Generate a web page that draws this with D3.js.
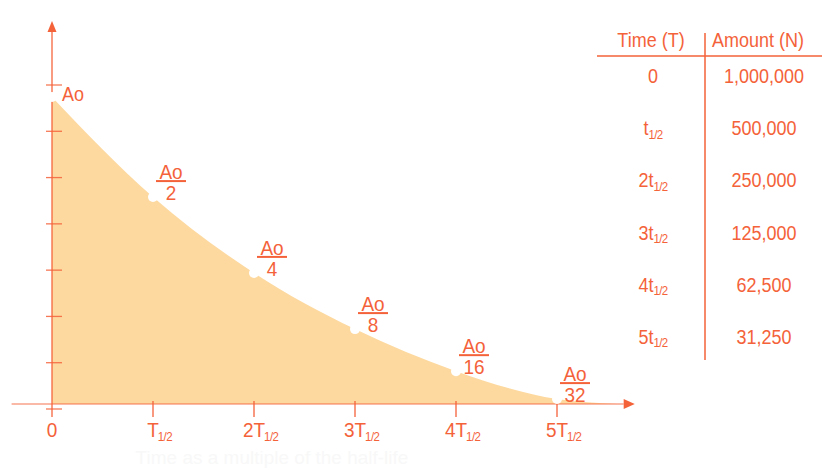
<!DOCTYPE html>
<html>
<head>
<meta charset="utf-8">
<script src="https://cdn.jsdelivr.net/npm/d3@7"></script>
<style>
  html, body { margin: 0; padding: 0; background: #fff; }
  svg { display: block; font-family: "Liberation Sans", Arial, Helvetica, sans-serif; }
</style>
</head>
<body>
<svg id="chart" width="822" height="473"></svg>
<script>
// ---- data ----
const curveT = [0, 1, 2, 3, 4, 5, 5.6];               // time in half-lives
const curveFrac = [1, 0.674, 0.427, 0.244, 0.107, 0.016, 0]; // drawn amount (fraction of Ao)
const halfLifeIdx = [0, 1, 2, 3, 4, 5];
const denominators = [2, 4, 8, 16, 32];
const xTickMain = ["0", "T", "2T", "3T", "4T", "5T"];
const xTickSub = ["", "1/2", "1/2", "1/2", "1/2", "1/2"];
const yTickIdx = [0, 1, 2, 3, 4, 5, 6, 7];
const tableTimeMain = ["0", "t", "2t", "3t", "4t", "5t"];
const tableTimeSub = ["", "1/2", "1/2", "1/2", "1/2", "1/2"];
const tableAmounts = [1000000, 500000, 250000, 125000, 62500, 31250];
const tableHeaders = ["Time (T)", "Amount (N)"];
const xTitle = "Time as a multiple of the half-life";

// ---- style ----
const ORANGE = "#f4623a";
const FILL = "#fdd9a0";
const SY = 1.1; // vertical stretch of glyphs

const svg = d3.select("#chart");
const x = d3.scaleLinear().domain([0, 5]).range([52, 557]);
const y = d3.scaleLinear().domain([0, 1]).range([404, 97]);
const yTick = d3.scaleLinear().domain([0, 7]).range([409, 85]);
const pts = curveT.map((t, i) => [t, curveFrac[i]]);

function txt(px, py, str, size, anchor) {
  return svg.append("text")
    .attr("transform", `translate(${px},${py}) scale(1,${SY})`)
    .attr("text-anchor", anchor || "start")
    .attr("font-size", size).attr("fill", ORANGE).text(str);
}

// faint axis title
svg.append("text").attr("x", 272).attr("y", 464).attr("text-anchor", "middle")
  .attr("font-size", 19).attr("fill", "#f8f8f8").text(xTitle);

// area
const area = d3.area().x(d => x(d[0])).y0(y(0)).y1(d => y(d[1])).curve(d3.curveMonotoneX);
svg.append("path").datum(pts).attr("d", area).attr("fill", FILL);

// x axis line
svg.append("line").attr("x1", x(-0.4)).attr("x2", x(5.66)).attr("y1", y(0)).attr("y2", y(0))
  .attr("stroke", ORANGE).attr("stroke-opacity", 0.45).attr("stroke-width", 2);
svg.append("path")
  .attr("d", `M${x(5.77)},${y(0)} L${x(5.66)},${y(0) - 5} L${x(5.66)},${y(0) + 5} Z`)
  .attr("fill", ORANGE);

// x ticks
svg.selectAll(".xt").data(halfLifeIdx.slice(1)).join("line")
  .attr("x1", d => x(d)).attr("x2", d => x(d)).attr("y1", y(0) - 3).attr("y2", y(0) + 13)
  .attr("stroke", ORANGE).attr("stroke-width", 1.3);

// y axis
svg.append("line").attr("x1", x(0)).attr("x2", x(0)).attr("y1", 417).attr("y2", 30)
  .attr("stroke", ORANGE).attr("stroke-width", 1.5).attr("stroke-opacity", 0.85);
svg.append("path")
  .attr("d", `M${x(0)},21 L${x(0) - 4.5},32 L${x(0) + 4.5},32 Z`).attr("fill", ORANGE);
svg.selectAll(".yt").data(yTickIdx).join("line")
  .attr("x1", x(0) - 6).attr("x2", x(0) + 10).attr("y1", d => yTick(d)).attr("y2", d => yTick(d))
  .attr("stroke", ORANGE).attr("stroke-width", 1.3).attr("stroke-opacity", 0.85);

// x tick labels
halfLifeIdx.forEach((d, i) => {
  const main = txt(x(d), 437, xTickMain[i], 19, "middle");
  if (xTickSub[i]) {
    const w = main.node().getComputedTextLength();
    txt(x(d) + w / 2 - 1, 441, xTickSub[i], 11.5).attr("letter-spacing", -0.6);
  }
});

// white dots at half-life points
svg.selectAll(".dot").data(halfLifeIdx).join("circle")
  .attr("cx", d => x(curveT[d])).attr("cy", d => y(curveFrac[d])).attr("r", 5).attr("fill", "#fff");

// Ao label
txt(x(0) + 10, 101, "Ao", 18);

// fraction labels
denominators.forEach((den, i) => {
  const px = x(curveT[i + 1]), py = y(curveFrac[i + 1]);
  const cx = px + 18, by = py - 16;
  svg.append("line").attr("x1", cx - 15).attr("x2", cx + 15).attr("y1", by).attr("y2", by)
    .attr("stroke", ORANGE).attr("stroke-width", 2);
  txt(cx, by - 2, "Ao", 19, "middle");
  txt(cx, by + 19, den, 19, "middle");
});

// table
const colTime = 653, colAmt = 764;
txt(651, 47, tableHeaders[0], 18, "middle");
txt(758, 47, tableHeaders[1], 18, "middle");
svg.append("line").attr("x1", 597).attr("x2", 822).attr("y1", 56).attr("y2", 56)
  .attr("stroke", ORANGE).attr("stroke-width", 1.5);
svg.append("line").attr("x1", 705).attr("x2", 705).attr("y1", 33).attr("y2", 360)
  .attr("stroke", ORANGE).attr("stroke-width", 1.5);
const rowY = d3.scaleLinear().domain([0, 5]).range([83, 344]);
tableAmounts.forEach((a, i) => {
  const t = txt(colTime, rowY(i), null, 18, "middle");
  t.append("tspan").text(tableTimeMain[i]);
  if (tableTimeSub[i]) {
    t.append("tspan").attr("dy", 3).attr("font-size", 11.5).attr("letter-spacing", -0.6).text(tableTimeSub[i]);
  }
  txt(colAmt, rowY(i), d3.format(",")(a), 18, "middle");
});
</script>
</body>
</html>
